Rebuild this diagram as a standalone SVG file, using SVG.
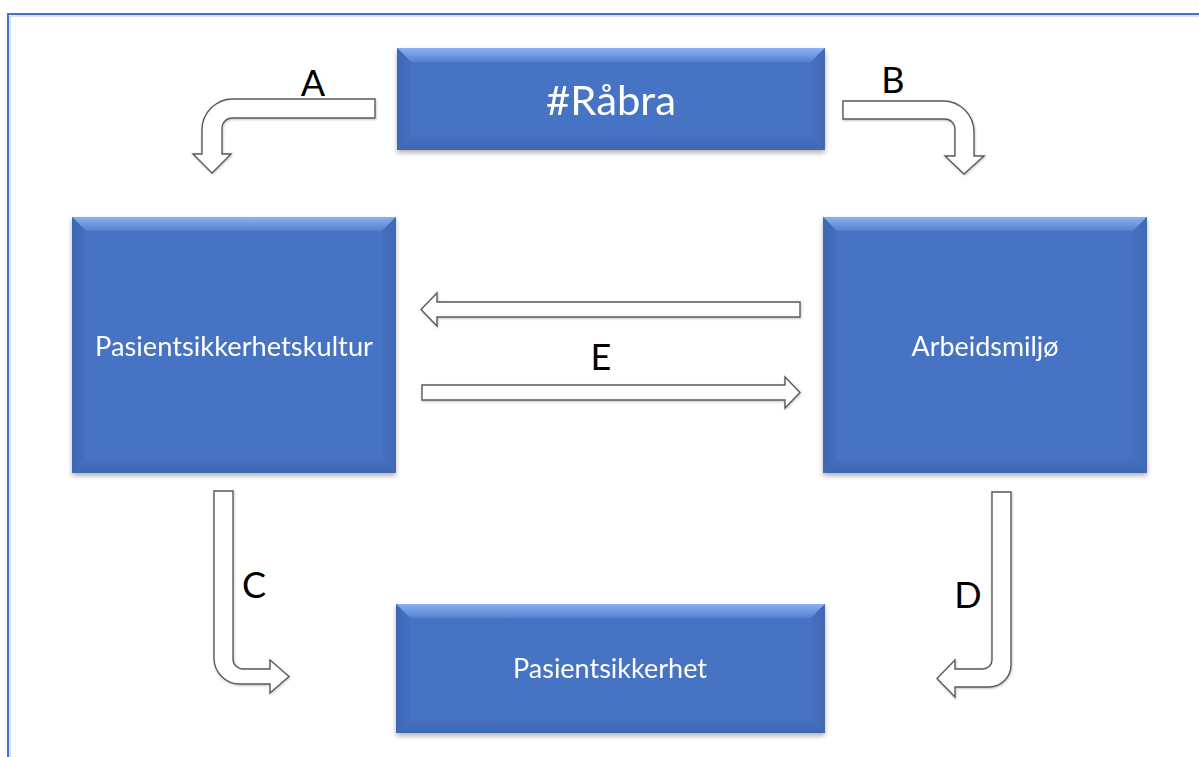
<svg xmlns="http://www.w3.org/2000/svg" width="1199" height="757" viewBox="0 0 1199 757">
<style>
.lbl{font-family:Lato,"Liberation Sans",sans-serif;fill:#ffffff;text-anchor:middle}
.key{font-family:Lato,"Liberation Sans",sans-serif;fill:#000000;text-anchor:middle;font-size:36px}
.arr{fill:#ffffff;stroke:#5a5a5a;stroke-width:1.4;stroke-linejoin:miter}
.main{fill:#4673C4}
.bt{fill:url(#gTop)}
.bl{fill:url(#gLeft)}
.br{fill:url(#gRight)}
.bb{fill:url(#gBot)}
</style>
<defs>
<linearGradient id="gTop" x1="0" y1="0" x2="0" y2="1">
<stop offset="0" stop-color="#8AB2F2"/>
<stop offset="1" stop-color="#5580CE"/>
</linearGradient>
<linearGradient id="gLeft" x1="0" y1="0" x2="1" y2="0">
<stop offset="0" stop-color="#3D67B3"/>
<stop offset="1" stop-color="#4470C0"/>
</linearGradient>
<linearGradient id="gRight" x1="1" y1="0" x2="0" y2="0">
<stop offset="0" stop-color="#4068B4"/>
<stop offset="1" stop-color="#4571C1"/>
</linearGradient>
<linearGradient id="gBot" x1="0" y1="1" x2="0" y2="0">
<stop offset="0" stop-color="#3E67B2"/>
<stop offset="1" stop-color="#4571C1"/>
</linearGradient>
<filter id="sh" x="-5%" y="-5%" width="110%" height="115%">
<feDropShadow dx="0" dy="3" stdDeviation="2.5" flood-color="#000" flood-opacity="0.3"/>
</filter>
<filter id="ash" x="-10%" y="-10%" width="120%" height="120%">
<feDropShadow dx="0.5" dy="1" stdDeviation="0.8" flood-color="#000" flood-opacity="0.25"/>
</filter>
</defs>
<rect x="0" y="0" width="1199" height="757" fill="#ffffff"/>
<path d="M8 770 V14 H1210" fill="none" stroke="#4472C4" stroke-width="2"/>
<path d="M10 770 V16 H1210" fill="none" stroke="#B4C7E7" stroke-width="1"/>

<g id="node-rabra" filter="url(#sh)">
<rect class="main" x="397" y="48" width="428" height="102"/>
<polygon class="bt" points="397,48 825,48 811,62 411,62"/>
<polygon class="bl" points="397,48 411,62 411,136 397,150"/>
<polygon class="br" points="825,48 825,150 811,136 811,62"/>
<polygon class="bb" points="397,150 411,136 811,136 825,150"/>
<text class="lbl" x="611" y="115" font-size="40" textLength="130" lengthAdjust="spacingAndGlyphs">#Råbra</text>
</g>

<g id="node-kultur" filter="url(#sh)">
<rect class="main" x="72" y="217" width="324" height="256"/>
<polygon class="bt" points="72,217 396,217 382,231 86,231"/>
<polygon class="bl" points="72,217 86,231 86,459 72,473"/>
<polygon class="br" points="396,217 396,473 382,459 382,231"/>
<polygon class="bb" points="72,473 86,459 382,459 396,473"/>
<text class="lbl" x="234" y="356" font-size="26" textLength="278" lengthAdjust="spacingAndGlyphs">Pasientsikkerhetskultur</text>
</g>

<g id="node-miljo" filter="url(#sh)">
<rect class="main" x="823" y="217" width="324" height="256"/>
<polygon class="bt" points="823,217 1147,217 1133,231 837,231"/>
<polygon class="bl" points="823,217 837,231 837,459 823,473"/>
<polygon class="br" points="1147,217 1147,473 1133,459 1133,231"/>
<polygon class="bb" points="823,473 837,459 1133,459 1147,473"/>
<text class="lbl" x="985" y="356" font-size="26" textLength="147" lengthAdjust="spacingAndGlyphs">Arbeidsmiljø</text>
</g>

<g id="node-sikkerhet" filter="url(#sh)">
<rect class="main" x="396" y="604" width="429" height="129"/>
<polygon class="bt" points="396,604 825,604 811,618 410,618"/>
<polygon class="bl" points="396,604 410,618 410,719 396,733"/>
<polygon class="br" points="825,604 825,733 811,719 811,618"/>
<polygon class="bb" points="396,733 410,719 811,719 825,733"/>
<text class="lbl" x="610" y="678" font-size="26" textLength="194" lengthAdjust="spacingAndGlyphs">Pasientsikkerhet</text>
</g>

<g id="connectors" filter="url(#ash)">
<path class="arr" d="M375 99 H233 A31 31 0 0 0 202 130 V154 H193 L212 173 L231 154 H222 V128 A10 10 0 0 1 232 118 H375 Z"/>
<path class="arr" d="M843 101 H943 A31 31 0 0 1 974 132 V156 H984 L964 174 L945 156 H955 V129 A10 10 0 0 0 945 119 H843 Z"/>
<path class="arr" d="M214 491 H233 V659 A10 10 0 0 0 243 669 H270 V660 L289 676.5 L270 693 V684 H240 A26 26 0 0 1 214 658 Z"/>
<path class="arr" d="M992 492 H1011 V665 A22 22 0 0 1 989 687 H955 V697 L937 678.5 L955 660 V669 H983 A9 9 0 0 0 992 660 Z"/>
<path class="arr" d="M800 302 H437 V293 L421 309.5 L437 326 V317 H800 Z"/>
<path class="arr" d="M422 385 H785 V377 L800 392.5 L785 408 V400 H422 Z"/>
</g>

<g id="keys">
<text class="key" x="313" y="96">A</text>
<text class="key" x="893" y="93">B</text>
<text class="key" x="254" y="598">C</text>
<text class="key" x="968" y="608">D</text>
<text class="key" x="601" y="370">E</text>
</g>
</svg>
